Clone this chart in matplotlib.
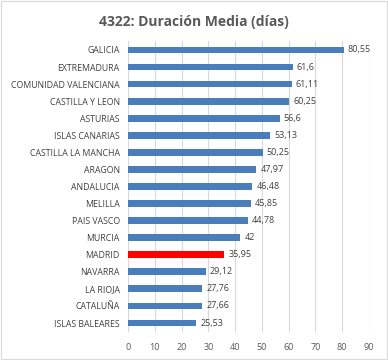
import numpy as np
import matplotlib.pyplot as plt

# Data
regiones = ['GALICIA', 'EXTREMADURA', 'COMUNIDAD VALENCIANA', 'CASTILLA Y LEON',
            'ASTURIAS', 'ISLAS CANARIAS', 'CASTILLA LA MANCHA', 'ARAGON',
            'ANDALUCIA', 'MELILLA', 'PAIS VASCO', 'MURCIA', 'MADRID',
            'NAVARRA', 'LA RIOJA', 'CATALUÑA', 'ISLAS BALEARES']
duracion = [80.55, 61.6, 61.11, 60.25, 56.6, 53.13, 50.25, 47.97,
            46.48, 45.85, 44.78, 42, 35.95, 29.12, 27.76, 27.66, 25.53]
etiquetas = ['80,55', '61,6', '61,11', '60,25', '56,6', '53,13', '50,25', '47,97',
             '46,48', '45,85', '44,78', '42', '35,95', '29,12', '27,76', '27,66', '25,53']
x_ticks = [0, 10, 20, 30, 40, 50, 60, 70, 80, 90]

plt.rcParams['font.family'] = ['Open Sans', 'DejaVu Sans']
txt = '#595959'

fig = plt.figure(figsize=(3.88, 3.6), dpi=100)
ax = fig.add_axes([0.330, 0.079, 0.621, 0.806])

y = np.arange(len(regiones))
colores = ['#FF0000' if r == 'MADRID' else '#4A7EBB' for r in regiones]
ax.barh(y, duracion, height=0.4, color=colores, zorder=3)

for yi, v, lab in zip(y, duracion, etiquetas):
    ax.text(v + 1.5, yi, lab, va='center', ha='left', fontsize=6.5, color='#404040')

ax.set_yticks(y)
ax.set_yticklabels(regiones, fontsize=6.3, color='#404040')
ax.set_ylim(len(regiones) - 0.5, -0.5)
ax.set_xlim(0, 90)
ax.set_xticks(x_ticks)
ax.set_xticklabels([str(t) for t in x_ticks], fontsize=6.5, color=txt)
ax.xaxis.grid(True, color='#D9D9D9', linewidth=0.8, zorder=0)
ax.tick_params(length=0, pad=6)
ax.tick_params(axis='x', pad=8)
for s in ax.spines.values():
    s.set_visible(False)
ax.axvline(0, color='#D9D9D9', linewidth=0.8, zorder=1)

fig.text(0.50, 0.94, '4322: Duración Media (días)', ha='center', va='center',
         fontsize=10, fontweight='bold', color=txt)

# outer border
fig.patches.append(plt.Rectangle((0.003, 0.003), 0.994, 0.994, transform=fig.transFigure,
                                 fill=False, edgecolor='#D9D9D9', linewidth=0.8))

plt.savefig('out.png', dpi=100)
